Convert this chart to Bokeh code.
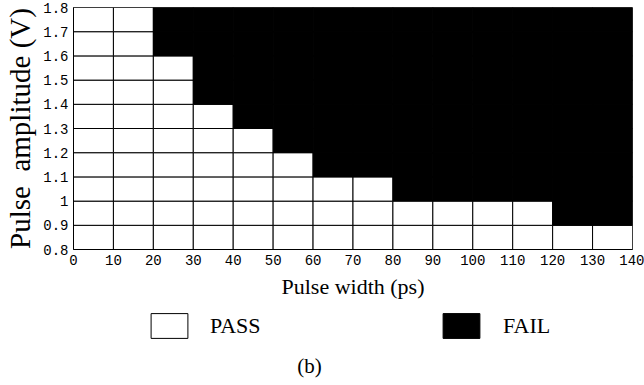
from bokeh.plotting import figure
from bokeh.layouts import column
from bokeh.models import FixedTicker, ColumnDataSource, Legend, LegendItem, Range1d, Label
from bokeh.embed import file_html
from bokeh.resources import INLINE

# ---- data ----
pulse_width_start = [0, 10, 20, 30, 40, 50, 60, 70, 80, 90, 100, 110, 120, 130]   # ps, column left edge
pass_up_to = [1.8, 1.8, 1.6, 1.4, 1.3, 1.2, 1.1, 1.1, 1.0, 1.0, 1.0, 1.0, 0.9, 0.9]  # V, highest passing amplitude
amplitude_levels = [0.8, 0.9, 1.0, 1.1, 1.2, 1.3, 1.4, 1.5, 1.6, 1.7]  # V, row bottom edge
x_ticks = [0, 10, 20, 30, 40, 50, 60, 70, 80, 90, 100, 110, 120, 130, 140]
y_ticks = [0.8, 0.9, 1.0, 1.1, 1.2, 1.3, 1.4, 1.5, 1.6, 1.7, 1.8]
y_tick_labels = ["0.8", "0.9", "1", "1.1", "1.2", "1.3", "1.4", "1.5", "1.6", "1.7", "1.8"]
legend_labels = ["PASS", "FAIL"]
caption = "(b)"
width_step = 10
amp_step = 0.1

# build cells
pas = dict(left=[], right=[], bottom=[], top=[])
fail = dict(left=[], right=[], bottom=[], top=[])
for x0, lim in zip(pulse_width_start, pass_up_to):
    for y0 in amplitude_levels:
        d = pas if y0 + amp_step <= lim + 1e-9 else fail
        d["left"].append(x0)
        d["right"].append(x0 + width_step)
        d["bottom"].append(y0)
        d["top"].append(round(y0 + amp_step, 3))

serif = "Liberation Serif"
mono = "Liberation Mono"

W = 644
H_TOP = 310
H_BOT = 75
FRAME_L = 73
FRAME_R = 12

p = figure(width=W, height=H_TOP, output_backend="svg", toolbar_location=None,
           x_range=Range1d(0, 140), y_range=Range1d(0.8, 1.8),
           min_border_left=FRAME_L, min_border_right=FRAME_R, min_border_top=7, min_border_bottom=61)
p.background_fill_color = "white"
p.border_fill_color = "white"
p.outline_line_color = "#555555"
p.xgrid.visible = False
p.ygrid.visible = False

cell_style = dict(left="left", right="right", bottom="bottom", top="top", line_color="black", line_width=1)
p.quad(source=ColumnDataSource(pas), fill_color="white", **cell_style)
p.quad(source=ColumnDataSource(fail), fill_color="black", **cell_style)

p.xaxis.ticker = FixedTicker(ticks=x_ticks)
p.yaxis.ticker = FixedTicker(ticks=y_ticks)
p.yaxis.major_label_overrides = {t: l for t, l in zip(y_ticks, y_tick_labels)}
for ax in (p.xaxis[0], p.yaxis[0]):
    ax.major_tick_out = 0
    ax.major_tick_in = 0
    ax.minor_tick_out = 0
    ax.minor_tick_in = 0
    ax.axis_line_color = "black"
    ax.major_label_text_font = mono
    ax.major_label_text_font_size = "14px"
    ax.major_label_text_color = "black"
    ax.axis_label_text_font = serif
    ax.axis_label_text_font_style = "normal"
    ax.axis_label_text_color = "black"

p.xaxis.axis_label = "Pulse width (ps)"
p.xaxis.axis_label_text_font_size = "22px"
p.xaxis.major_label_standoff = 5
p.xaxis.axis_label_standoff = 6
p.yaxis.axis_label = "Pulse\u00a0\u00a0amplitude (V)"
p.yaxis.axis_label_text_font_size = "29px"
p.yaxis.major_label_standoff = 5
p.yaxis.axis_label_standoff = 4

# ---- legend / caption strip below the chart (frame aligned with the chart's frame) ----
q_w = W - FRAME_L - FRAME_R
q = figure(width=W, height=H_BOT, output_backend="svg", toolbar_location=None,
           x_range=Range1d(0, q_w), y_range=Range1d(0, H_BOT),
           x_axis_type=None, y_axis_type=None,
           min_border_left=FRAME_L, min_border_right=FRAME_R, min_border_top=0, min_border_bottom=0)
q.outline_line_color = None
q.xgrid.visible = False
q.ygrid.visible = False
q.background_fill_color = "white"
q.border_fill_color = "white"

# legend proxies: one off-screen cell each, so the legend has a swatch to draw
proxy = dict(left=[-20], right=[-10], bottom=[-20], top=[-10])
r_pass = q.quad(source=ColumnDataSource(dict(proxy)), fill_color="white", **cell_style)
r_fail = q.quad(source=ColumnDataSource(dict(proxy)), fill_color="black", **cell_style)

def make_legend(label, renderer, loc, standoff):
    return Legend(items=[LegendItem(label=label, renderers=[renderer])], location=loc,
                  glyph_width=46, glyph_height=31, label_standoff=standoff,
                  padding=0, margin=0, border_line_alpha=0, background_fill_alpha=0,
                  label_text_font=serif, label_text_font_size="22px", label_text_color="black")

q.add_layout(make_legend(legend_labels[0], r_pass, (146 - FRAME_L, 44), 18))
q.add_layout(make_legend(legend_labels[1], r_fail, (438 - FRAME_L, 44), 19))

q.add_layout(Label(x=309 - FRAME_L, y=20, text=caption, text_align="center", text_baseline="middle",
                   text_font=serif, text_font_size="21px", text_color="black"))

open("out.html", "w").write(file_html(column(p, q, spacing=0), INLINE))
